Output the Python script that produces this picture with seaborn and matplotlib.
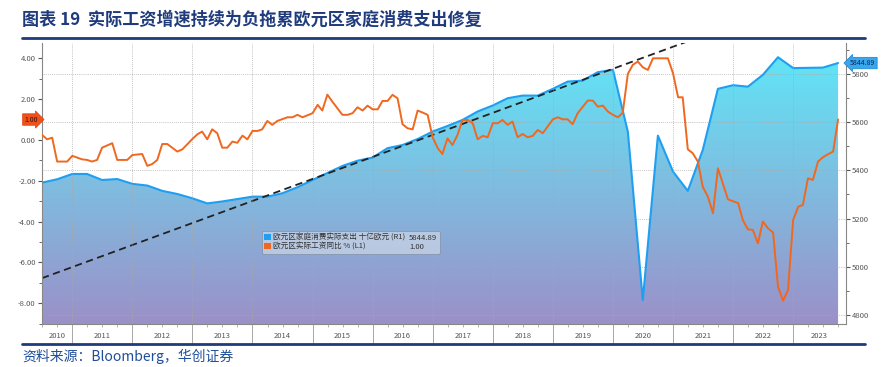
import numpy as np
import pandas as pd
import matplotlib
matplotlib.use("Agg")
import matplotlib.pyplot as plt
import seaborn as sns
from matplotlib.patches import Patch
from matplotlib.lines import Line2D
from matplotlib.colors import LinearSegmentedColormap
from matplotlib.ticker import MultipleLocator, FormatStrFormatter

# euro area real household consumption, bn EUR (R1), quarterly 2010Q2 - 2023Q3
consumption = [5349, 5363, 5385,
               5385, 5360, 5364, 5344,
               5337, 5315, 5302, 5284,
               5263, 5271, 5281, 5291,
               5291, 5305, 5330, 5360,
               5389, 5418, 5440, 5453,
               5492, 5505, 5530, 5561,
               5584, 5609, 5644, 5669,
               5699, 5710, 5710, 5738,
               5768, 5772, 5807, 5817,
               5560, 4862, 5544, 5395,
               5315, 5485, 5738, 5753,
               5747, 5796, 5869, 5824,
               5825, 5826, 5844.89]
quarters = pd.period_range("2010Q2", "2023Q3", freq="Q")

# euro area real wages yoy % (L1), months counted from 2010-06
wage_month = [0, 1, 2, 3, 5, 6, 8, 9, 10, 11, 12, 14, 15, 17, 18, 20, 21, 22, 23, 24,
              25, 27, 28, 30, 31, 32, 33, 34, 35, 36, 37, 38, 39, 40, 41, 42, 43, 44, 45, 46,
              47, 49, 50, 51, 52, 54, 55, 56, 57, 58, 60, 61, 62, 63, 64, 65, 66, 67, 68, 69,
              70, 71, 72, 73, 74, 75, 76, 77, 78, 79, 80, 81, 82, 83, 84, 85, 86, 87, 88, 89,
              90, 91, 92, 93, 94, 95, 96, 97, 98, 99, 100, 102, 103, 104, 105, 106, 107, 109, 110, 111,
              112, 113, 114, 115, 116, 117, 118, 119, 120, 121, 122, 125, 126, 127, 128, 129, 130, 131, 132, 133,
              134, 135, 137, 139, 140, 141, 142, 143, 144, 145, 146, 147, 148, 149, 150, 151, 152, 153, 154, 155,
              156, 157, 158, 159]
wage = [0.25, 0.03, 0.11, -1.06, -1.06, -0.78, -0.95, -0.98, -1.06, -0.98, -0.38, -0.16, -0.98, -0.98, -0.74, -0.69, -1.27, -1.18, -0.98, -0.20,
        -0.20, -0.57, -0.46, 0.05, 0.28, 0.41, 0.03, 0.52, 0.33, -0.38, -0.38, -0.08, -0.14, 0.21, 0.03, 0.44, 0.44, 0.52, 0.93, 0.74,
        0.93, 1.11, 1.11, 1.23, 1.11, 1.31, 1.72, 1.44, 2.22, 1.88, 1.23, 1.23, 1.31, 1.60, 1.44, 1.68, 1.50, 1.50, 1.91, 1.91,
        2.21, 2.04, 0.77, 0.57, 0.52, 1.44, 1.34, 1.23, 0.12, -0.41, -0.69, 0.08, -0.25, 0.25, 0.98, 0.98, 0.82, 0.03, 0.20, 0.13,
        0.82, 0.82, 0.98, 0.74, 0.90, 0.13, 0.29, 0.13, 0.20, 0.49, 0.33, 1.01, 1.11, 1.01, 1.01, 0.77, 1.31, 1.93, 1.93, 1.63,
        1.68, 1.39, 1.23, 1.11, 1.34, 3.24, 3.68, 3.84, 3.56, 3.43, 4.00, 4.00, 3.27, 2.09, 2.09, -0.46, -0.65, -1.06, -2.30, -2.78,
        -3.59, -1.39, -2.91, -3.10, -3.92, -4.38, -4.41, -5.07, -4.00, -4.33, -4.53, -7.19, -7.88, -7.35, -3.92, -3.27, -3.19, -1.88, -1.96, -1.06,
        -0.85, -0.70, -0.57, 1.00]

# pre-covid consumption trend (R1)
trend_dates = ["2010-06-30", "2021-03-31"]
trend_vals = [4953, 5935]

years = list(range(2010, 2024))
legend_names = ["欧元区家庭消费实际支出 十亿欧元 (R1)", "欧元区实际工资同比 % (L1)"]
legend_last = ["5844.89", "1.00"]


def dec_year(ts):
    ts = pd.Timestamp(ts)
    n = 366 if ts.is_leap_year else 365
    return ts.year + ts.dayofyear / n


x_cons = np.array([dec_year(q.end_time.normalize()) for q in quarters])
x_wage = np.array([dec_year((pd.Period("2010-06", "M") + m).end_time.normalize()) for m in wage_month])
x_trend = [dec_year(d) for d in trend_dates]

sns.set_theme(style="white")
plt.rcParams["font.family"] = ["Noto Sans CJK SC", "DejaVu Sans"]

BLUE = "#1e9ff2"
ORANGE = "#f0681f"
NAVY = "#1f3b7c"
GRAY = "#555555"
GRID = "#a8a8a8"

fig = plt.figure(figsize=(8.85, 3.67), dpi=100)
ax = fig.add_axes([42 / 885, 1 - 324 / 367, 804 / 885, 281 / 367])
ax2 = ax.twinx()
ax.set_zorder(ax2.get_zorder() + 1)
ax.patch.set_visible(False)

xmin, xmax = 2010.496, 2023.88
ylo, yhi = 4763, 5928

# gradient area under consumption line
poly = ax2.fill_between(x_cons, consumption, ylo, color="none", lw=0, zorder=1)
cmap = LinearSegmentedColormap.from_list("grad", ["#9b90c8", "#7fbde0", "#5de9f9"])
grad = np.linspace(0, 1, 256).reshape(-1, 1)
img = ax2.imshow(grad, extent=[xmin, xmax, ylo, yhi], origin="lower", aspect="auto",
                 cmap=cmap, zorder=1)
img.set_clip_path(poly.get_paths()[0], transform=ax2.transData)

sns.lineplot(x=x_cons, y=consumption, ax=ax2, color=BLUE, lw=1.5, zorder=2)
ax2.plot(x_trend, trend_vals, color="#222222", lw=1.3, ls=(0, (4, 2.5)), zorder=2.5)
sns.lineplot(x=x_wage, y=wage, ax=ax, color=ORANGE, lw=1.4, zorder=3)

ax.set_xlim(xmin, xmax)
ax2.set_xlim(xmin, xmax)
ax.set_ylim(-9.02, 4.75)
ax2.set_ylim(ylo, yhi)

# grids
ax2.set_axisbelow("line")
ax2.yaxis.grid(True, color=GRID, lw=0.55, ls=(0, (1, 1.5)))
ax.xaxis.grid(True, which="major", color=GRID, lw=0.55, ls=(0, (1, 1.5)))

# left axis
ax.set_yticks(np.arange(-8, 5, 2))
ax.yaxis.set_minor_locator(MultipleLocator(1))
ax.yaxis.set_major_formatter(FormatStrFormatter("%.2f"))
ax.tick_params(axis="y", which="major", length=3, width=0.8, color=GRAY, labelsize=5.5,
               labelcolor=GRAY, pad=1.5, left=True)
ax.tick_params(axis="y", which="minor", length=2, width=0.6, color=GRAY, left=True)

# right axis
ax2.set_yticks(np.arange(4800, 5801, 200))
ax2.yaxis.set_minor_locator(MultipleLocator(100))
ax2.tick_params(axis="y", which="major", length=3, width=0.8, color=GRAY, labelsize=5.5,
                labelcolor=GRAY, pad=1.5, right=True)
ax2.tick_params(axis="y", which="minor", length=2, width=0.6, color=GRAY, right=True)

# x axis: year separators, quarter ticks, year labels centred on visible span
ax.set_xticks(years[1:])
ax.set_xticklabels([])
qticks = [y + q / 4 for y in years for q in (1, 2, 3) if xmin < y + q / 4 < xmax]
ax.set_xticks(qticks, minor=True)
ax.tick_params(axis="x", which="major", length=15, width=0.6, color="#999999", bottom=True)
ax.tick_params(axis="x", which="minor", length=2.5, width=0.5, color="#999999", bottom=True)
centers = [(max(y, xmin) + min(y + 1, xmax)) / 2 for y in years]
sec = ax.secondary_xaxis("bottom")
sec.set_xticks(centers, labels=[str(y) for y in years])
sec.tick_params(length=0, labelsize=5.5, labelcolor=GRAY, pad=6)
sec.spines["bottom"].set_visible(False)

for a in (ax, ax2):
    a.set_xlabel("")
    a.set_ylabel("")
    a.spines["top"].set_visible(False)
ax.spines["right"].set_visible(False)
ax2.spines["left"].set_visible(False)
ax2.spines["bottom"].set_visible(False)
for s in ("left", "bottom"):
    ax.spines[s].set_color("#888888")
    ax.spines[s].set_linewidth(0.8)
ax2.spines["right"].set_color("#888888")
ax2.spines["right"].set_linewidth(0.8)

# last-value tags
ax.annotate(legend_last[1], xy=(0, wage[-1]), xycoords=("axes fraction", "data"),
            xytext=(-3, 0), textcoords="offset points", ha="right", va="center",
            fontsize=5, color="#3a1005",
            bbox=dict(boxstyle="rarrow,pad=0.25", fc="#f0501a", ec="#e04010", lw=0.5),
            annotation_clip=False)
ax2.annotate(legend_last[0], xy=(1, consumption[-1]), xycoords=("axes fraction", "data"),
             xytext=(3, 0), textcoords="offset points", ha="left", va="center",
             fontsize=5, color="#0a2a5a",
             bbox=dict(boxstyle="larrow,pad=0.25", fc="#3aa6ec", ec="#1a80d0", lw=0.5),
             annotation_clip=False)

# legend
handles = [Patch(fc=BLUE, ec="none"), Patch(fc=ORANGE, ec="none"),
           Patch(fc="none", ec="none"), Patch(fc="none", ec="none")]
leg = ax.legend(handles, legend_names + legend_last, ncol=2, loc="upper left",
                bbox_to_anchor=(216 / 804, 97 / 281), fontsize=5.5, frameon=True,
                handlelength=0.8, handleheight=0.8, handletextpad=0.3,
                columnspacing=-0.6, labelspacing=0.15, borderpad=0.35, fancybox=True)
leg.get_frame().set_facecolor("#c8d4e6")
leg.get_frame().set_alpha(0.75)
leg.get_frame().set_edgecolor("#7d8aa0")
leg.get_frame().set_linewidth(0.6)
for t in leg.get_texts():
    t.set_color("#333333")

# title, rules and source
fig.text(22 / 885, 1 - 20 / 367, "图表 19  实际工资增速持续为负拖累欧元区家庭消费支出修复",
         fontsize=12.3, fontweight="bold", color=NAVY, va="center", ha="left")
fig.add_artist(Line2D([22 / 885, 865 / 885], [1 - 38 / 367] * 2, color=NAVY, lw=2))
fig.add_artist(Line2D([22 / 885, 865 / 885], [1 - 344 / 367] * 2, color=NAVY, lw=2))
fig.text(22 / 885, 1 - 356 / 367, "资料来源：Bloomberg，华创证券", fontsize=10,
         style="italic", color="#1f4e9a", va="center", ha="left")

fig.savefig("out.png", dpi=100)
